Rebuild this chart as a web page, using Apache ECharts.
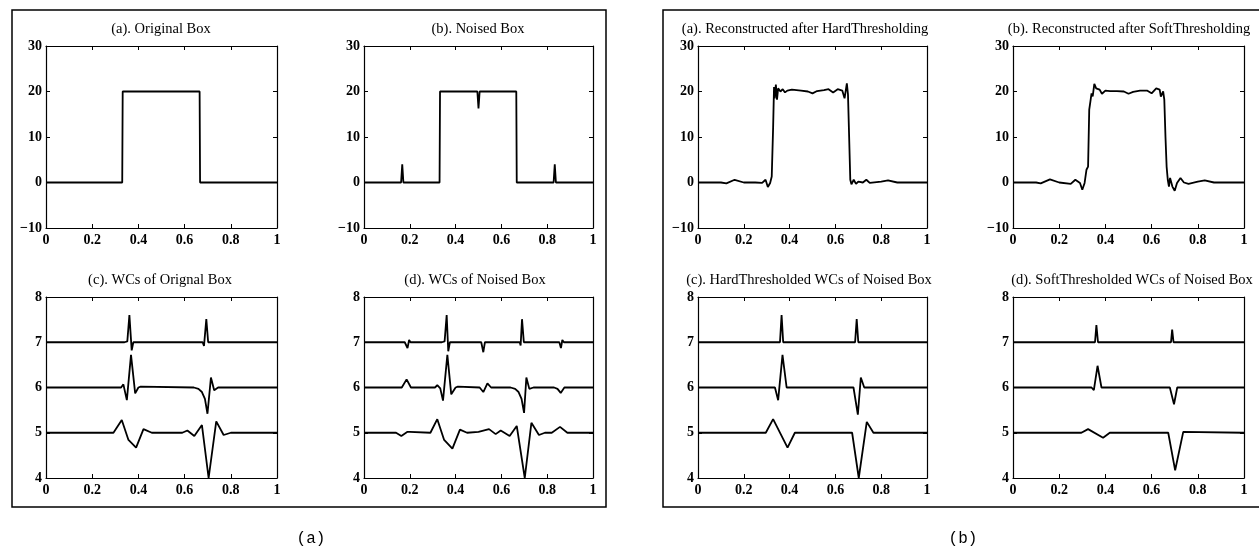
<!DOCTYPE html>
<html>
<head>
<meta charset="utf-8">
<script src="https://cdn.jsdelivr.net/npm/echarts@6/dist/echarts.min.js"></script>
<style>
html,body{margin:0;padding:0;background:#fff;}
#chart{width:1259px;height:552px;}
</style>
</head>
<body>
<div id="chart"></div>
<script>
// ---------------- DATA ----------------
const xTicks = [0, 0.2, 0.4, 0.6, 0.8, 1];
const yTicksSignal = [-10, 0, 10, 20, 30];
const yTicksWc = [4, 5, 6, 7, 8];

// (a) Original box
const origX = [0, 0.33, 0.332, 0.665, 0.667, 1];
const origY = [0, 0, 20, 20, 0, 0];

// (b) Noised box
const noisedX = [0, 0.162, 0.167, 0.172, 0.33, 0.332, 0.495, 0.5, 0.505, 0.665, 0.667, 0.828, 0.833, 0.838, 1];
const noisedY = [0, 0, 4, 0, 0, 20, 20, 16.3, 20, 20, 0, 0, 4, 0, 0];

// (c) WCs of original box (levels offset at 7, 6, 5)
const origWc7X = [0, 0.34, 0.352, 0.361, 0.371, 0.378, 0.678, 0.684, 0.694, 0.702, 1];
const origWc7Y = [7, 7, 7.02, 7.6, 6.82, 7, 7, 6.92, 7.51, 7, 7];
const origWc6X = [0, 0.325, 0.335, 0.35, 0.368, 0.386, 0.4, 0.41, 0.64, 0.66, 0.675, 0.688, 0.699, 0.714, 0.728, 0.745, 1];
const origWc6Y = [6, 6, 6.07, 5.72, 6.72, 5.87, 6.0, 6.02, 6.0, 5.97, 5.9, 5.75, 5.42, 6.22, 5.94, 6.0, 6];
const origWc5X = [0, 0.292, 0.328, 0.357, 0.39, 0.422, 0.458, 0.59, 0.612, 0.642, 0.675, 0.704, 0.737, 0.769, 0.8, 1];
const origWc5Y = [5, 5, 5.28, 4.84, 4.67, 5.08, 5.0, 5.0, 5.05, 4.93, 5.17, 4.0, 5.25, 4.95, 5.0, 5];

// (d) WCs of noised box
const noisedWc7X = [0, 0.178, 0.19, 0.197, 0.203, 0.21, 0.34, 0.352, 0.361, 0.368, 0.375, 0.512, 0.521, 0.528, 0.68, 0.684, 0.69, 0.698, 0.853, 0.86, 0.866, 0.873, 1];
const noisedWc7Y = [7, 7, 6.87, 7.05, 7, 7, 7, 7.02, 7.6, 6.8, 7, 7, 6.78, 7, 7, 6.93, 7.51, 7, 7, 6.87, 7.05, 7, 7];
const noisedWc6X = [0, 0.165, 0.186, 0.205, 0.31, 0.32, 0.333, 0.345, 0.364, 0.381, 0.4, 0.41, 0.505, 0.521, 0.539, 0.555, 0.64, 0.66, 0.675, 0.688, 0.699, 0.709, 0.722, 0.74, 0.83, 0.845, 0.859, 0.875, 1];
const noisedWc6Y = [6, 6, 6.18, 6.0, 6.0, 6.05, 5.98, 5.71, 6.72, 5.85, 6.0, 6.02, 6.0, 5.9, 6.09, 6.0, 6.0, 5.97, 5.9, 5.75, 5.44, 6.22, 5.97, 6.0, 6.0, 5.97, 5.88, 6.0, 6];
const noisedWc5X = [0, 0.14, 0.163, 0.19, 0.2, 0.29, 0.32, 0.35, 0.386, 0.419, 0.45, 0.5, 0.546, 0.575, 0.597, 0.636, 0.667, 0.702, 0.731, 0.764, 0.79, 0.82, 0.856, 0.888, 1];
const noisedWc5Y = [5, 5.0, 4.93, 5.02, 5.02, 5.0, 5.3, 4.84, 4.65, 5.07, 5.0, 5.02, 5.08, 4.97, 5.05, 4.93, 5.15, 4.0, 5.22, 4.95, 5.0, 5.0, 5.13, 5.0, 5];

// (b)-(a) Reconstructed after hard thresholding
const hardX = [0, 0.1, 0.124, 0.16, 0.2, 0.25, 0.28, 0.295, 0.305, 0.315, 0.322, 0.328, 0.332, 0.335, 0.34, 0.345, 0.35, 0.36, 0.37, 0.38, 0.39, 0.41, 0.45, 0.48, 0.5, 0.52, 0.55, 0.57, 0.59, 0.61, 0.63, 0.64, 0.65, 0.655, 0.66, 0.665, 0.67, 0.68, 0.69, 0.7, 0.72, 0.735, 0.75, 0.8, 0.83, 0.87, 0.9, 1];
const hardY = [0, 0, -0.2, 0.6, 0, 0, -0.1, 0.6, -1.0, -0.1, 1.3, 12, 21, 18.5, 21.5, 18.2, 20.7, 20, 20.5, 19.8, 20.2, 20.4, 20.2, 20, 19.6, 20.1, 20.3, 20.5, 19.8, 20.5, 20.2, 18.5, 21.8, 19.3, 10, 0.6, -0.4, 0.6, -0.3, 0.2, 0, 0.6, -0.1, 0.2, 0.45, 0, 0, 0];

// (b)-(b) Reconstructed after soft thresholding
const softX = [0, 0.1, 0.12, 0.16, 0.2, 0.25, 0.27, 0.29, 0.3, 0.31, 0.318, 0.325, 0.33, 0.335, 0.34, 0.345, 0.352, 0.36, 0.375, 0.385, 0.4, 0.42, 0.45, 0.48, 0.5, 0.52, 0.55, 0.58, 0.6, 0.62, 0.635, 0.64, 0.65, 0.655, 0.66, 0.665, 0.67, 0.675, 0.68, 0.69, 0.7, 0.71, 0.725, 0.74, 0.76, 0.8, 0.83, 0.87, 1];
const softY = [0, 0, -0.2, 0.7, 0, -0.3, 0.6, -0.1, -1.6, -0.1, 2.8, 3.5, 16, 17.8, 19.6, 18.9, 21.7, 20.7, 20.4, 19.5, 20.2, 20.1, 20.1, 20, 19.5, 19.9, 20.2, 20.2, 19.6, 20.7, 20.4, 18.9, 20, 18.2, 10.1, 3.5, 0.6, -0.9, 1.0, -0.9, -1.8, -0.1, 1.0, 0, -0.3, 0.2, 0.45, 0, 0];

// (b)-(c) Hard thresholded WCs
const hardWc7X = [0, 0.358, 0.365, 0.372, 0.686, 0.693, 0.7, 1];
const hardWc7Y = [7, 7, 7.6, 7, 7, 7.51, 7, 7];
const hardWc6X = [0, 0.336, 0.35, 0.369, 0.387, 0.679, 0.698, 0.711, 0.726, 1];
const hardWc6Y = [6, 6, 5.72, 6.72, 6, 6, 5.4, 6.22, 6, 6];
const hardWc5X = [0, 0.296, 0.328, 0.391, 0.423, 0.673, 0.702, 0.737, 0.766, 1];
const hardWc5Y = [5, 5, 5.3, 4.67, 5, 5, 4.0, 5.24, 5, 5];

// (b)-(d) Soft thresholded WCs
const softWc7X = [0, 0.355, 0.361, 0.368, 0.684, 0.689, 0.695, 1];
const softWc7Y = [7, 7, 7.38, 7, 7, 7.28, 7, 7];
const softWc6X = [0, 0.34, 0.35, 0.366, 0.383, 0.679, 0.697, 0.711, 1];
const softWc6Y = [6, 6, 5.94, 6.48, 6, 6, 5.63, 6, 6];
const softWc5X = [0, 0.296, 0.325, 0.39, 0.419, 0.672, 0.702, 0.737, 1];
const softWc5Y = [5, 5, 5.08, 4.89, 5, 5, 4.17, 5.02, 5];

const titles = [
  '(a). Original Box', '(b). Noised Box', '(c). WCs of Orignal Box', '(d). WCs of Noised Box',
  '(a). Reconstructed after HardThresholding', '(b). Reconstructed after SoftThresholding',
  '(c). HardThresholded WCs of Noised Box', '(d). SoftThresholded WCs of Noised Box'
];
const figureLabels = ['(a)', '(b)'];

// ---------------- LAYOUT ----------------
const zip = (xs, ys) => xs.map((x, i) => [x, ys[i]]);
const layout = [
  {l: 46,   t: 46,  w: 231, h: 182, tx: 161,  ty: 29,  yt: yTicksSignal, curves: [[origX, origY]]},
  {l: 364,  t: 46,  w: 229, h: 182, tx: 478,  ty: 29,  yt: yTicksSignal, curves: [[noisedX, noisedY]]},
  {l: 46,   t: 297, w: 231, h: 181, tx: 160,  ty: 280, yt: yTicksWc, curves: [[origWc7X, origWc7Y], [origWc6X, origWc6Y], [origWc5X, origWc5Y]]},
  {l: 364,  t: 297, w: 229, h: 181, tx: 475,  ty: 280, yt: yTicksWc, curves: [[noisedWc7X, noisedWc7Y], [noisedWc6X, noisedWc6Y], [noisedWc5X, noisedWc5Y]]},
  {l: 698,  t: 46,  w: 229, h: 182, tx: 805,  ty: 29,  yt: yTicksSignal, curves: [[hardX, hardY]]},
  {l: 1013, t: 46,  w: 231, h: 182, tx: 1129, ty: 29,  yt: yTicksSignal, curves: [[softX, softY]]},
  {l: 698,  t: 297, w: 229, h: 181, tx: 809,  ty: 280, yt: yTicksWc, curves: [[hardWc7X, hardWc7Y], [hardWc6X, hardWc6Y], [hardWc5X, hardWc5Y]]},
  {l: 1013, t: 297, w: 231, h: 181, tx: 1132, ty: 280, yt: yTicksWc, curves: [[softWc7X, softWc7Y], [softWc6X, softWc6Y], [softWc5X, softWc5Y]]}
];

const labelFont = {fontFamily: 'Liberation Serif', fontWeight: 'bold', fontSize: 14, color: '#000'};
const lineCol = '#000';
const fmt = v => String(v).replace('-', '\u2212');

const grid = [], xAxis = [], yAxis = [], series = [], graphic = [];
layout.forEach((p, gi) => {
  grid.push({left: p.l, top: p.t, width: p.w, height: p.h, containLabel: false});
  const xBase = {
    type: 'value', gridIndex: gi, min: xTicks[0], max: xTicks[xTicks.length - 1],
    interval: xTicks[1] - xTicks[0], splitLine: {show: false},
    axisLine: {show: true, onZero: false, lineStyle: {color: lineCol, width: 1.2}},
    axisTick: {show: true, inside: true, length: 4, lineStyle: {color: lineCol, width: 1}}
  };
  const yBase = {
    type: 'value', gridIndex: gi, min: p.yt[0], max: p.yt[p.yt.length - 1],
    interval: p.yt[1] - p.yt[0], splitLine: {show: false},
    axisLine: {show: true, onZero: false, lineStyle: {color: lineCol, width: 1.2}},
    axisTick: {show: true, inside: true, length: 4, lineStyle: {color: lineCol, width: 1}}
  };
  const xi = xAxis.length, yi = yAxis.length;
  xAxis.push(Object.assign({}, xBase, {position: 'bottom', axisLabel: Object.assign({margin: 5, formatter: fmt}, labelFont)}));
  xAxis.push(Object.assign({}, xBase, {position: 'top', axisLabel: {show: false}}));
  yAxis.push(Object.assign({}, yBase, {position: 'left', axisLabel: Object.assign({margin: 4, formatter: fmt}, labelFont)}));
  yAxis.push(Object.assign({}, yBase, {position: 'right', axisLabel: {show: false}}));
  p.curves.forEach(c => {
    series.push({
      type: 'line', xAxisIndex: xi, yAxisIndex: yi, data: zip(c[0], c[1]),
      symbol: 'none', smooth: false, animation: false, clip: true,
      lineStyle: {color: lineCol, width: 1.8}
    });
  });
  graphic.push({
    type: 'text', left: null, x: p.tx, y: p.ty,
    style: {text: titles[gi], x: 0, y: 0, align: 'center', verticalAlign: 'middle',
            fontFamily: 'Liberation Serif', fontSize: 14.5, fill: '#000'}
  });
});

graphic.push({type: 'rect', shape: {x: 12, y: 10, width: 594, height: 497},
  style: {fill: 'none', stroke: '#000', lineWidth: 1.5}, z: -1});
graphic.push({type: 'rect', shape: {x: 663, y: 10, width: 620, height: 497},
  style: {fill: 'none', stroke: '#000', lineWidth: 1.5}, z: -1});
graphic.push({type: 'text', x: 311, y: 539, style: {text: figureLabels[0], x: 0, y: 0, align: 'center', verticalAlign: 'middle',
  fontFamily: 'Liberation Mono', fontSize: 16, fill: '#000'}});
graphic.push({type: 'text', x: 963, y: 539, style: {text: figureLabels[1], x: 0, y: 0, align: 'center', verticalAlign: 'middle',
  fontFamily: 'Liberation Mono', fontSize: 16, fill: '#000'}});

const chart = echarts.init(document.getElementById('chart'), null, {renderer: 'canvas'});
chart.setOption({
  backgroundColor: '#fff',
  animation: false,
  grid, xAxis, yAxis, series, graphic
});
</script>
</body>
</html>
